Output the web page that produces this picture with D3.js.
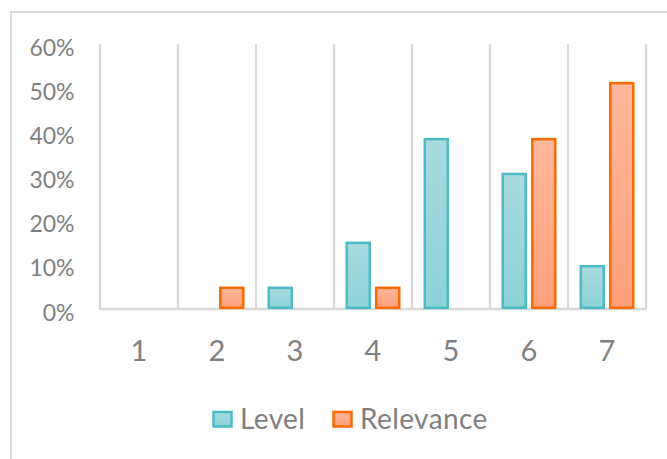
<!DOCTYPE html>
<html>
<head>
<meta charset="utf-8">
<script src="https://cdn.jsdelivr.net/npm/d3@7"></script>
<style>
  body { margin: 0; background: #fff; }
  text { font-family: Lato, "Open Sans", sans-serif; fill: #7f7f7f; }
</style>
</head>
<body>
<div id="chart-area"></div>
<script>
// data (percent)
var categories = ["1", "2", "3", "4", "5", "6", "7"];
var seriesNames = ["Level", "Relevance"];
var levelValues = [0, 0, 4.8, 15.0, 38.5, 30.6, 9.7];
var relevanceValues = [0, 4.8, 0, 4.8, 0, 38.5, 51.2];
var yTicks = [0, 10, 20, 30, 40, 50, 60];

var W = 667, H = 459;
var plot = { left: 100, right: 646, top: 44.3, bottom: 309 };

var svg = d3.select("#chart-area")
    .append("svg")
    .attr("width", W)
    .attr("height", H);

var defs = svg.append("defs");
function grad(id, top, bottom) {
    var g = defs.append("linearGradient")
        .attr("id", id)
        .attr("x1", 0).attr("y1", 0)
        .attr("x2", 0).attr("y2", 1);
    g.append("stop").attr("offset", "0%").attr("stop-color", top);
    g.append("stop").attr("offset", "100%").attr("stop-color", bottom);
}
grad("gLevel", "#aadadf", "#8bd2d8");
grad("gRel", "#ffb79e", "#ff9f7b");

var fills = { "Level": "url(#gLevel)", "Relevance": "url(#gRel)" };
var strokes = { "Level": "#4bbcc6", "Relevance": "#ff6a00" };

// chart area border (left + top)
svg.append("path")
    .attr("d", "M11,459 V12 H667")
    .attr("fill", "none")
    .attr("stroke", "#d9d9d9")
    .attr("stroke-width", 2);

// scales
var x = d3.scaleBand()
    .domain(categories)
    .range([plot.left, plot.right])
    .padding(0);

var xs = d3.scaleBand()
    .domain(seriesNames)
    .range([11.5, 66.5])
    .paddingInner(0.136);

var y = d3.scaleLinear()
    .domain([0, 60])
    .range([plot.bottom, plot.top]);

// vertical gridlines at category boundaries
var bounds = categories.map(function(c) { return x(c); }).concat([x.range()[1]]);
svg.append("g")
    .selectAll("line")
    .data(bounds)
    .enter()
    .append("line")
    .attr("x1", function(d) { return d; })
    .attr("x2", function(d) { return d; })
    .attr("y1", y(60))
    .attr("y2", y(0))
    .attr("stroke", "#d9d9d9")
    .attr("stroke-width", 2.3);

// baseline
svg.append("line")
    .attr("x1", plot.left - 1)
    .attr("x2", plot.right + 1)
    .attr("y1", y(0))
    .attr("y2", y(0))
    .attr("stroke", "#d9d9d9")
    .attr("stroke-width", 2.3);

// Y axis labels
var yAxis = svg.append("g")
    .attr("transform", "translate(" + plot.left + ",0)")
    .call(d3.axisLeft(y)
        .tickValues(yTicks)
        .tickSize(0)
        .tickPadding(25.5)
        .tickFormat(function(d) { return d + "%"; }));
yAxis.select(".domain").remove();
yAxis.selectAll("text")
    .attr("dy", "11px")
    .attr("font-size", "23px")
    .style("font-family", "Lato, sans-serif")
    .attr("fill", "#7f7f7f");

// X axis labels
var xAxis = svg.append("g")
    .attr("transform", "translate(0," + y(0) + ")")
    .call(d3.axisBottom(x).tickSize(0).tickPadding(0));
xAxis.select(".domain").remove();
xAxis.selectAll("text")
    .attr("y", 51.7)
    .attr("dy", 0)
    .attr("font-size", "29px")
    .style("font-family", "Lato, sans-serif")
    .attr("fill", "#7f7f7f");

// bars
var rows = [];
categories.forEach(function(c, i) {
    rows.push({ cat: c, series: "Level", value: levelValues[i] });
    rows.push({ cat: c, series: "Relevance", value: relevanceValues[i] });
});

var sw = 2.5;
svg.append("g")
    .selectAll("rect")
    .data(rows.filter(function(d) { return d.value > 0; }))
    .enter()
    .append("rect")
    .attr("x", function(d) { return x(d.cat) + xs(d.series) + sw / 2; })
    .attr("width", xs.bandwidth() - sw)
    .attr("y", function(d) { return y(d.value); })
    .attr("height", function(d) { return y(0) - 1.2 - y(d.value); })
    .attr("fill", function(d) { return fills[d.series]; })
    .attr("stroke", function(d) { return strokes[d.series]; })
    .attr("stroke-width", sw);

// legend
var legendX = { "Level": 213.5, "Relevance": 333.5 };
var legend = svg.append("g");
seriesNames.forEach(function(s) {
    legend.append("rect")
        .attr("x", legendX[s])
        .attr("y", 412)
        .attr("width", 18)
        .attr("height", 14.5)
        .attr("fill", fills[s])
        .attr("stroke", strokes[s])
        .attr("stroke-width", sw);
    legend.append("text")
        .attr("x", legendX[s] + 26.5)
        .attr("y", 428.5)
        .attr("font-size", "28px")
        .attr("letter-spacing", "0.4px")
        .text(s);
});
</script>
</body>
</html>
